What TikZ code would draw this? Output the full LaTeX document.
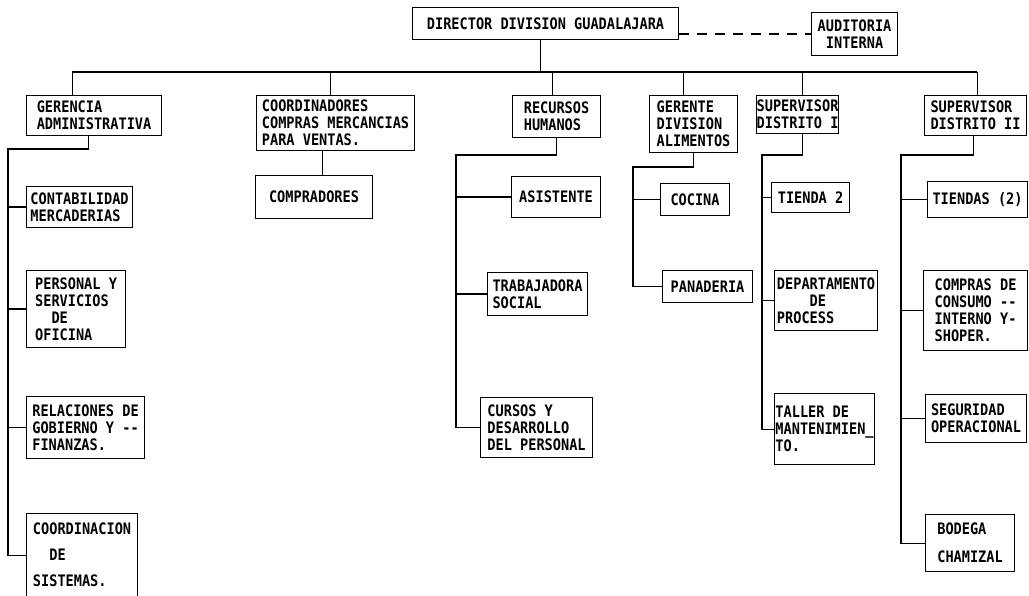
\documentclass[tikz,border=0pt]{standalone}
\usepackage{fontspec}
\newfontfamily\orgfont{DejaVu Sans Mono}[FakeStretch=0.86]
\tikzset{
    % Box styles
    org box/.style={
        draw=black,
        line width=1.1pt,
        rectangle,
        inner sep=0pt,
        align=left,
        anchor=north west,
        font=\orgfont\bfseries\fontsize{15.8}{17}\selectfont
    },
    % Line styles
    org line/.style={
        draw=black,
        line width=1.1pt
    },
    staff line/.style={
        draw=black,
        line width=1.1pt,
        dash pattern=on 10pt off 8pt
    }
}

\begin{document}
\begin{tikzpicture}[x=1pt, y=-1pt]
        \useasboundingbox (0,0) rectangle (1029,596);

        % Top level
        \node[org box, minimum width=266, minimum height=32] (dir) at (412,7) {DIRECTOR DIVISION GUADALAJARA};
        \node[org box, align=center, minimum width=86, minimum height=43] (aud) at (811,12) {AUDITORIA\\INTERNA};
        \draw[staff line] (aud.west -| dir.east) -- (aud.west);

        % Bus
        \coordinate (busL) at (72,72);
        \coordinate (busR) at (977,72);
        \draw[org line] (busL) -- (busR);
        \draw[org line] ([xshift=-5]dir.south) -- ([xshift=-5]dir.south |- busL);

        % Departments
        \node[org box, minimum width=135, minimum height=40] (ga) at (26,95) {GERENCIA\\ADMINISTRATIVA};
        \node[org box, minimum width=158, minimum height=55] (cc) at (256,95) {COORDINADORES\\COMPRAS MERCANCIAS\\PARA VENTAS.};
        \node[org box, minimum width=88, minimum height=42] (rh) at (512,95) {RECURSOS\\HUMANOS};
        \node[org box, minimum width=88, minimum height=57] (gd) at (649,95) {GERENTE\\DIVISION\\ALIMENTOS};
        \node[org box, minimum width=82, minimum height=38] (s1) at (756,95) {SUPERVISOR\\DISTRITO I};
        \node[org box, minimum width=102, minimum height=40] (s2) at (924,95) {SUPERVISOR\\DISTRITO II};
        \foreach \n/\s in {ga/-21.5, cc/-5, rh/-4, gd/-10, s1/5, s2/1.5} {
            \draw[org line] ([xshift=\s]\n.north) -- ([xshift=\s]\n.north |- busL);
        }

        % Gerencia administrativa
        \node[org box, minimum width=106, minimum height=41] (ga1) at (26,186) {CONTABILIDAD\\MERCADERIAS};
        \node[org box, minimum width=99, minimum height=77] (ga2) at (26,270) {PERSONAL Y\\SERVICIOS\\\phantom{XX}DE\\OFICINA};
        \node[org box, minimum width=118, minimum height=62] (ga3) at (26,396) {RELACIONES DE\\GOBIERNO Y \mbox{-}\mbox{-}\\FINANZAS.};
        \node[org box, minimum width=111, minimum height=83] (ga4) at (26,513) {COORDINACION\\[9pt]\phantom{XX}DE\\[9pt]SISTEMAS.};
        \coordinate (gaL) at (8,149);
        \draw[org line] ([xshift=-5.5]ga.south) |- (gaL) -- (gaL |- ga4.west) -- (ga4.west);
        \foreach \i in {1,2,3} {
            \draw[org line] (gaL |- ga\i.west) -- (ga\i.west);
        }

        % Compras
        \node[org box, minimum width=117, minimum height=43] (comp) at (255,175) {COMPRADORES};
        \draw[org line] ([xshift=8.5]comp.north) -- ([xshift=8.5]comp.north |- cc.south);

        % Recursos humanos
        \node[org box, minimum width=89, minimum height=41] (rh1) at (511,176) {ASISTENTE};
        \node[org box, minimum width=100, minimum height=43] (rh2) at (487,272) {TRABAJADORA\\SOCIAL};
        \node[org box, minimum width=112, minimum height=60] (rh3) at (480,397) {CURSOS Y\\DESARROLLO\\DEL PERSONAL};
        \coordinate (rhL) at (456,155);
        \draw[org line] (rh.south) |- (rhL) -- (rhL |- rh3.west) -- (rh3.west);
        \foreach \i in {1,2} {
            \draw[org line] (rhL |- rh\i.west) -- (rh\i.west);
        }

        % Division alimentos
        \node[org box, minimum width=69, minimum height=32] (gd1) at (660,183) {COCINA};
        \node[org box, minimum width=90, minimum height=32] (gd2) at (662,270) {PANADERIA};
        \coordinate (gdL) at (633,167);
        \draw[org line] (gd.south) |- (gdL) -- (gdL |- gd2.west) -- (gd2.west);
        \draw[org line] (gdL |- gd1.west) -- (gd1.west);

        % Distrito I
        \node[org box, minimum width=78, minimum height=30] (s11) at (771,182) {TIENDA 2};
        \node[org box, minimum width=103, minimum height=60] (s12) at (774,270) {DEPARTAMENTO\\\phantom{XXXX}DE\\PROCESS};
        \node[org box, minimum width=100, minimum height=71] (s13) at (774,393) {TALLER DE\\MANTENIMIEN\_\\TO.};
        \coordinate (s1L) at (762,155);
        \draw[org line] ([xshift=5]s1.south) |- (s1L) -- (s1L |- s13.west) -- (s13.west);
        \foreach \i in {1,2} {
            \draw[org line] (s1L |- s1\i.west) -- (s1\i.west);
        }

        % Distrito II
        \node[org box, minimum width=100, minimum height=36] (s21) at (927,181) {TIENDAS (2)};
        \node[org box, minimum width=104, minimum height=80] (s22) at (923,270) {COMPRAS DE\\CONSUMO \mbox{-}\mbox{-}\\INTERNO Y-\\SHOPER.};
        \node[org box, minimum width=101, minimum height=48] (s23) at (925,394) {SEGURIDAD\\OPERACIONAL};
        \node[org box, minimum width=89, minimum height=57] (s24) at (925,514) {BODEGA\\[11pt]CHAMIZAL};
        \coordinate (s2L) at (901,155);
        \draw[org line] ([xshift=-2]s2.south) |- (s2L) -- (s2L |- s24.west) -- (s24.west);
        \foreach \i in {1,2,3} {
            \draw[org line] (s2L |- s2\i.west) -- (s2\i.west);
        }
    \end{tikzpicture}
\end{document}
